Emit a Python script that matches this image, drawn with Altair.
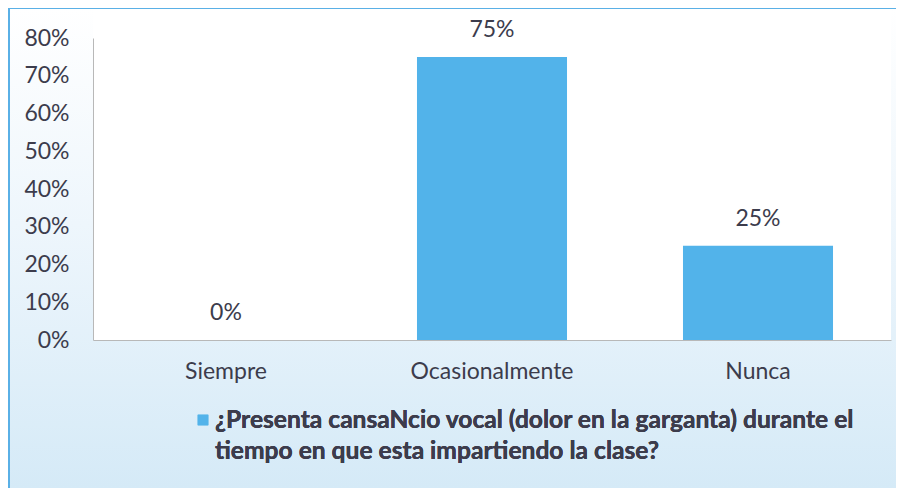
import altair as alt
import pandas as pd

categorias = ["Siempre", "Ocasionalmente", "Nunca"]
valores = [0.0, 0.75, 0.25]
etiquetas = ["0%", "75%", "25%"]
leyenda_lineas = [
    "¿Presenta cansaNcio vocal (dolor en la garganta) durante el",
    "tiempo en que esta impartiendo la clase?",
]
y_ticks = [0, 0.1, 0.2, 0.3, 0.4, 0.5, 0.6, 0.7, 0.8]

AZUL = "#52b3ea"
TEXTO = "#3c3c4c"
FUENTE = "Lato"
W, H = 798, 302

df = pd.DataFrame({"categoria": categorias, "valor": valores, "etiqueta": etiquetas})

x_enc = alt.X(
    "categoria:N",
    sort=categorias,
    title=None,
    scale=alt.Scale(paddingInner=0.436, paddingOuter=0.218),
    axis=alt.Axis(labelAngle=0, ticks=False, labelPadding=20, labelFontSize=23,
                  labelColor=TEXTO, labelFont=FUENTE, domainColor="#b8b8b8", grid=False,
                  zindex=1),
)
y_enc = alt.Y(
    "valor:Q",
    title=None,
    scale=alt.Scale(domain=[0, 0.8], nice=False),
    axis=alt.Axis(values=y_ticks, format=".0%", ticks=False, labelPadding=24, labelFontSize=23,
                  labelColor=TEXTO, labelFont=FUENTE, domainColor="#b8b8b8", grid=False,
                  labelOverlap=False, labelFlush=False, labelBound=False, zindex=1),
)

gradiente = alt.LinearGradient(
    gradient="linear",
    stops=[
        alt.GradientStop(offset=0, color="#ffffff"),
        alt.GradientStop(offset=0.45, color="#eef6fc"),
        alt.GradientStop(offset=1, color="#d5eaf7"),
    ],
    x1=0, x2=0, y1=0, y2=1,
)

fondo = alt.Chart(df).mark_rect(color=gradiente).encode(
    x=alt.value(-85), x2=alt.value(W + 5), y=alt.value(-30), y2=alt.value(H + 148)
)
area = alt.Chart(df).mark_rect(color="white").encode(
    x=alt.value(0), x2=alt.value(W), y=alt.value(-28), y2=alt.value(H)
)
borde_sup = alt.Chart(df).mark_rule(color="#5ab0e6", strokeWidth=2).encode(
    x=alt.value(-85), x2=alt.value(W + 5), y=alt.value(-30)
)
borde_izq = alt.Chart(df).mark_rule(color="#5ab0e6", strokeWidth=2).encode(
    x=alt.value(-84), y=alt.value(-30), y2=alt.value(H + 148)
)

barras = alt.Chart(df).mark_bar(color=AZUL).encode(x=x_enc, y=y_enc)
textos = alt.Chart(df).mark_text(
    baseline="middle", dy=-27, fontSize=23, font=FUENTE, color=TEXTO
).encode(x=x_enc, y=y_enc, text="etiqueta:N")

ley_simbolo = alt.Chart(df).mark_square(color=AZUL, size=110, opacity=1).encode(
    x=alt.value(110), y=alt.value(382)
)
ley_texto = alt.Chart(df).mark_text(
    align="left", baseline="alphabetic", fontSize=24.6, fontWeight="bold", font=FUENTE,
    color=TEXTO, lineHeight=31,
).encode(x=alt.value(122), y=alt.value(390), text=alt.value(leyenda_lineas))

chart = alt.layer(
    fondo, area, borde_sup, borde_izq, barras, textos, ley_simbolo, ley_texto
).properties(
    width=W, height=H,
    autosize=alt.AutoSizeParams(type="none"),
    padding={"left": 85, "right": 5, "top": 30, "bottom": 148},
    background="white",
).configure_view(stroke=None)

chart.save("out.html", embed_options={"renderer": "svg", "actions": False})
